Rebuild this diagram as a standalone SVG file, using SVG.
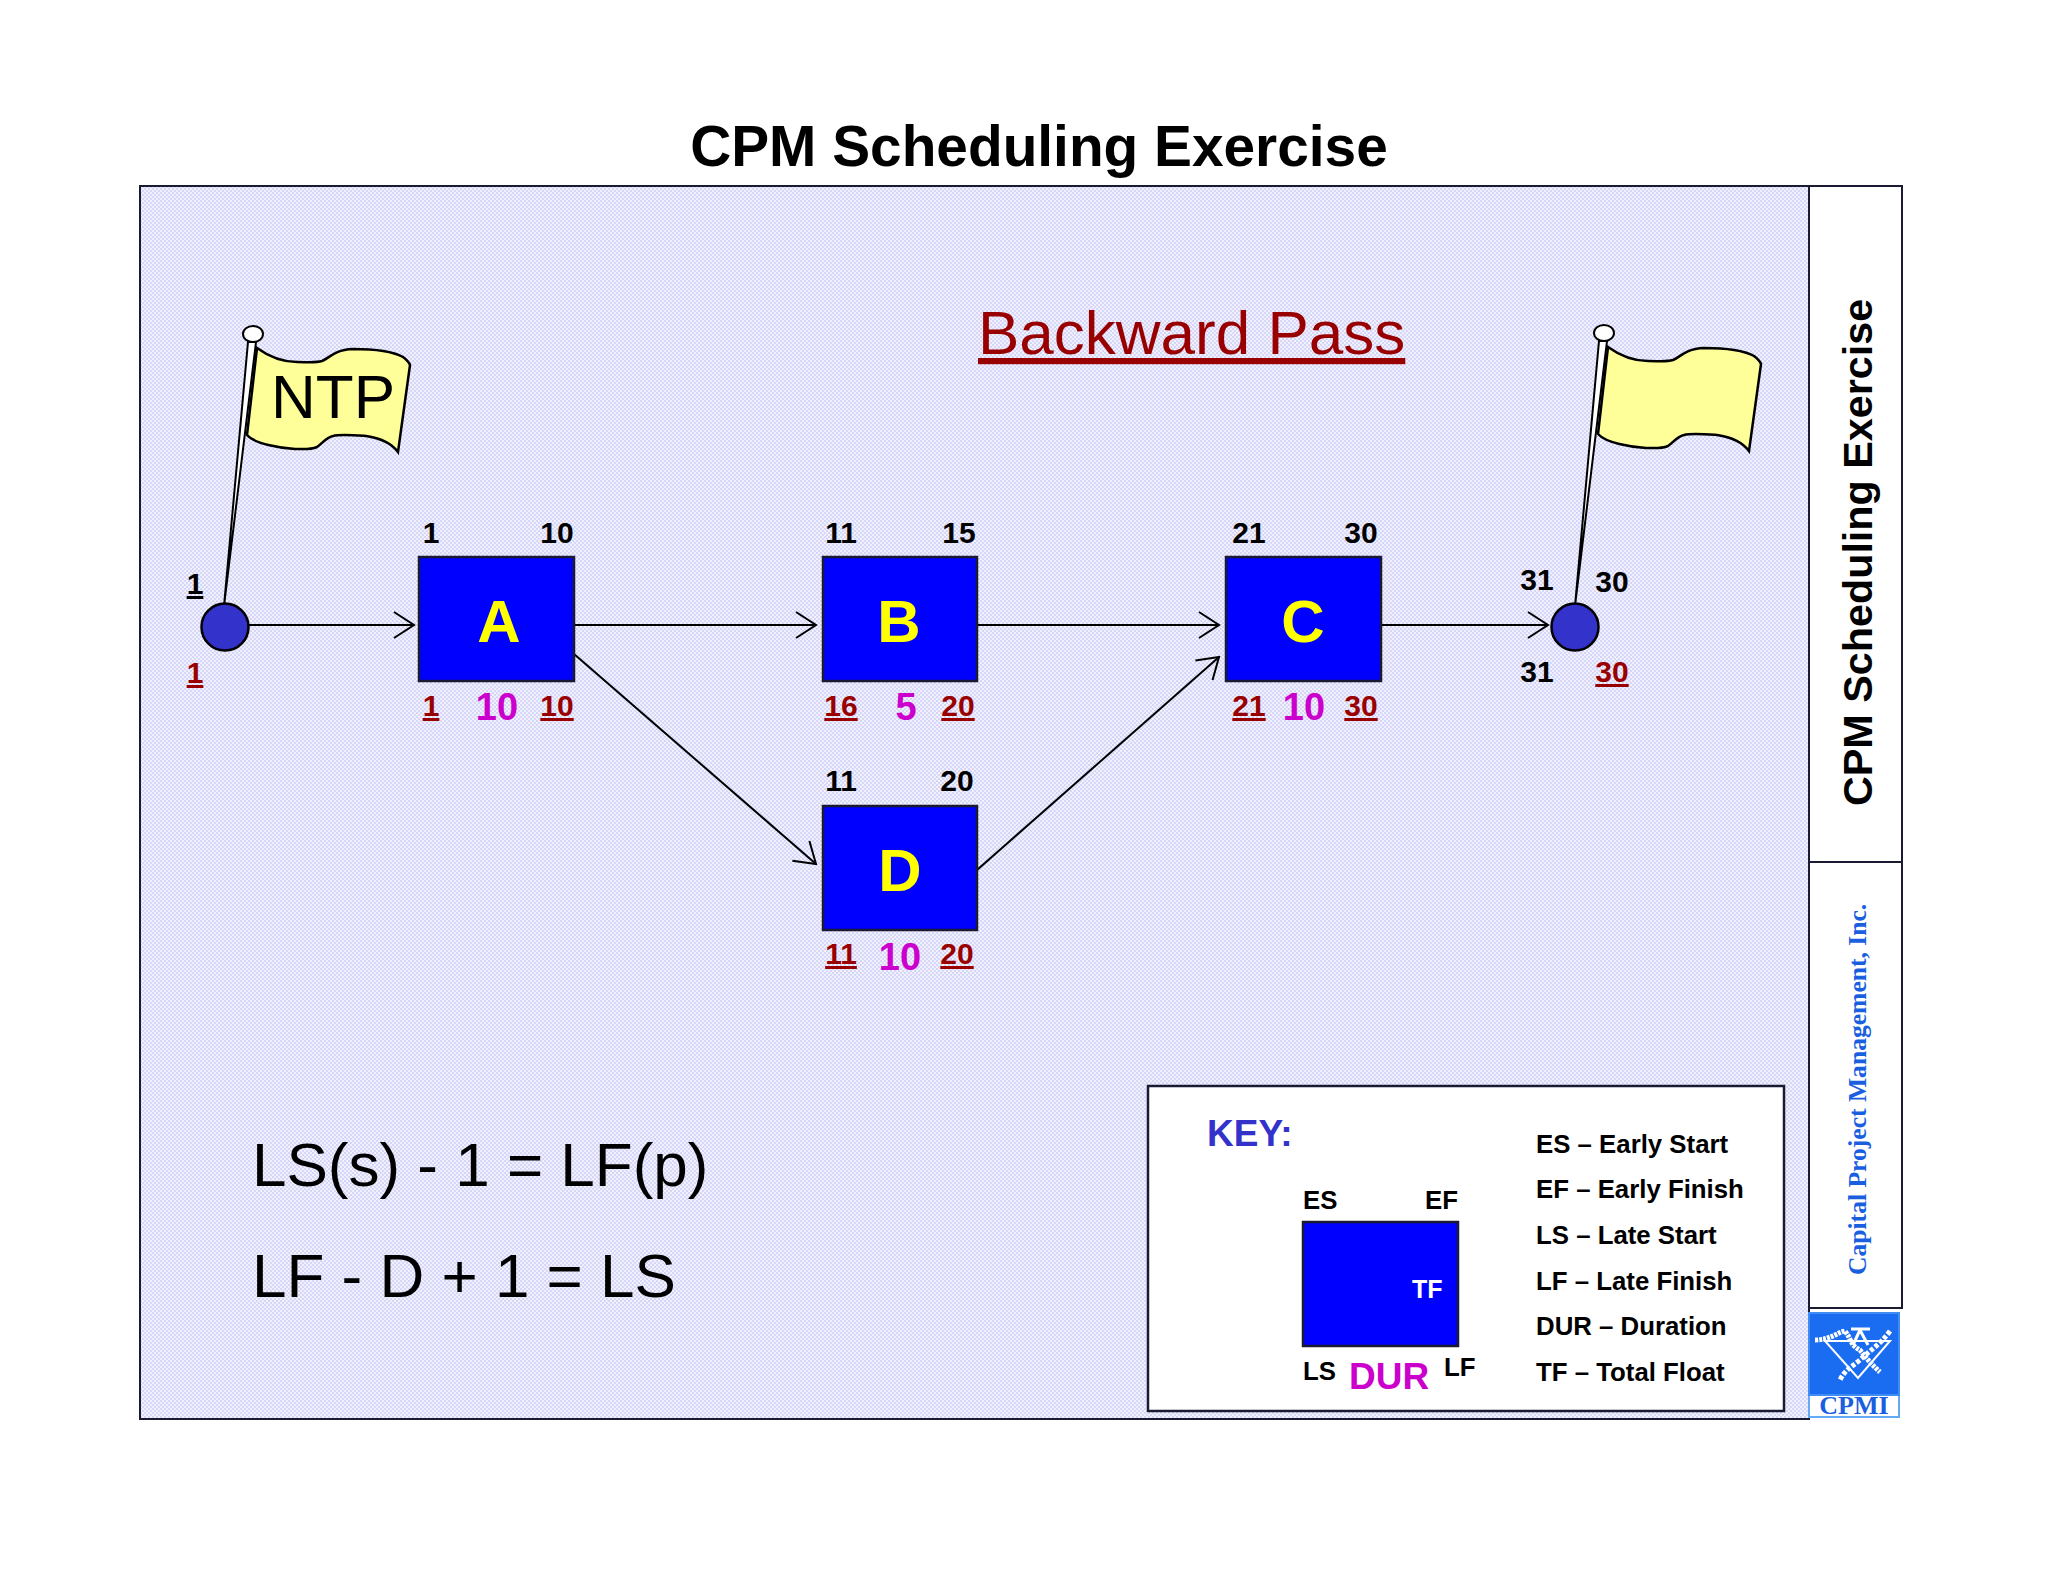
<svg xmlns="http://www.w3.org/2000/svg" width="2048" height="1582" viewBox="0 0 2048 1582">
<style>
text{font-family:"Liberation Sans",Arial,sans-serif}
.n{font-size:30px;font-weight:700;fill:#000;text-anchor:middle}
.l{font-size:30px;font-weight:700;fill:#990000;text-anchor:middle;text-decoration:underline}
.d{font-size:38px;font-weight:700;fill:#cc00cc;text-anchor:middle}
.t{font-size:60px;font-weight:700;fill:#ffff00;text-anchor:middle}
.box{fill:#0000ff;stroke:#1a1a33;stroke-width:2.5}
.k{font-size:25.8px;font-weight:700;fill:#000}
.f{font-size:62px;fill:#000}
.c{stroke:#000;stroke-width:2;fill:none}
.flag{fill:#ffff99;stroke:#000;stroke-width:2.5}
.pole{fill:#fff;stroke:#000;stroke-width:2}
.dot{fill:#3333cc;stroke:#000;stroke-width:2.5}
</style>
<defs>
<pattern id="bg" width="4" height="4" patternUnits="userSpaceOnUse">
<rect width="4" height="4" fill="#f0f0fe"/>
<rect width="2" height="2" fill="#d6d6f7"/>
<rect x="2" y="2" width="2" height="2" fill="#d6d6f7"/>
</pattern>
<path id="flagshape" d="M257 348C268 356 282 362 297 362C308 362 316 363 322 361C330 358 333 350 353 349C372 349 392 351 403 357C407 360 409 362 410 365L398 452C392 444 380 438 366 436C352 435 340 434 333 436C325 438 322 444 317 447C310 450 302 449 295 449C280 448 255 444 247 435Z"/>
<marker id="arr" viewBox="0 0 24 30" refX="22" refY="15" markerWidth="24" markerHeight="30" markerUnits="userSpaceOnUse" orient="auto"><path d="M2 2L22 15L2 28" fill="none" stroke="#000" stroke-width="2"/></marker>
</defs>
<rect width="2048" height="1582" fill="#fff"/>
<text id="title" x="1039" y="166" text-anchor="middle" font-size="56.8" font-weight="700">CPM Scheduling Exercise</text>
<rect id="panel" x="140" y="186" width="1669" height="1233" fill="url(#bg)" stroke="#1a1a33" stroke-width="2"/>
<g id="sidebar">
<rect x="1809" y="186" width="93" height="1122" fill="#fff" stroke="#1a1a33" stroke-width="2"/>
<line x1="1809" y1="862" x2="1902" y2="862" stroke="#1a1a33" stroke-width="2"/>
<text transform="translate(1872 806) rotate(-90)" font-size="41.3" font-weight="700">CPM Scheduling Exercise</text>
<text transform="translate(1866 1275) rotate(-90)" style="font-family:'Liberation Serif',serif" font-size="25.6" font-weight="700" fill="#1a5fe0">Capital Project Management, Inc.</text>
</g>
<g id="logo">
<rect x="1809" y="1313" width="90" height="104" fill="#fff" stroke="#66aaf5" stroke-width="2"/>
<rect x="1809" y="1313" width="90" height="82" fill="#1a6cf0" stroke="#3f8cf5" stroke-width="2"/>
<g fill="none" stroke="#fff">
<path d="M1825 1341L1890 1341L1858 1378Z" stroke-width="2"/>
<path d="M1815 1340C1830 1340 1838 1332 1845 1331C1852 1340 1850 1345 1860 1350C1866 1358 1872 1365 1880 1372" stroke-width="5" stroke-dasharray="3 1"/>
<path d="M1890 1331C1880 1345 1870 1350 1860 1360C1850 1368 1845 1370 1840 1380" stroke-width="5" stroke-dasharray="4 2"/>
<path d="M1851 1329L1870 1329M1860 1330L1853 1345M1860 1330L1868 1345" stroke-width="3"/>
</g>
<text x="1854" y="1414" text-anchor="middle" style="font-family:'Liberation Serif',serif" font-size="26" font-weight="700" fill="#1a5fe0">CPMI</text>
</g>
<text id="pass" x="978" y="354" font-size="62" fill="#990000" text-decoration="underline">Backward Pass</text>
<g id="connectors">
<line class="c" x1="248" y1="625" x2="414" y2="625" marker-end="url(#arr)"/>
<line class="c" x1="574" y1="625" x2="816" y2="625" marker-end="url(#arr)"/>
<line class="c" x1="977" y1="625" x2="1219" y2="625" marker-end="url(#arr)"/>
<line class="c" x1="1381" y1="625" x2="1548" y2="625" marker-end="url(#arr)"/>
<line class="c" x1="574" y1="654" x2="816" y2="864" marker-end="url(#arr)"/>
<line class="c" x1="977" y1="870" x2="1219" y2="657" marker-end="url(#arr)"/>
</g>
<g id="start">
<use href="#flagshape" class="flag"/>
<path class="pole" d="M224 606L248 342L256 342Z"/>
<ellipse cx="253" cy="334" rx="10" ry="8" fill="#fff" stroke="#000" stroke-width="2"/>
<text x="271" y="418" font-size="62">NTP</text>
<circle class="dot" cx="225" cy="627" r="23.5"/>
<text class="n" x="195" y="594" text-decoration="underline">1</text>
<text class="l" x="195" y="683">1</text>
</g>
<g id="finish">
<use href="#flagshape" class="flag" transform="translate(1351 -1)"/>
<path class="pole" d="M1575 606L1599 341L1607 341Z"/>
<ellipse cx="1604" cy="333" rx="10" ry="8" fill="#fff" stroke="#000" stroke-width="2"/>
<circle class="dot" cx="1575" cy="627" r="23.5"/>
<text class="n" x="1537" y="590">31</text>
<text class="n" x="1612" y="592">30</text>
<text class="n" x="1537" y="682">31</text>
<text class="l" x="1612" y="682">30</text>
</g>
<g id="A">
<rect class="box" x="419" y="557" width="155" height="124"/>
<text class="t" x="499" y="642">A</text>
<text class="n" x="431" y="543">1</text><text class="n" x="557" y="543">10</text>
<text class="l" x="431" y="716">1</text><text class="d" x="497" y="720">10</text><text class="l" x="557" y="716">10</text>
</g>
<g id="B">
<rect class="box" x="823" y="557" width="154" height="124"/>
<text class="t" x="899" y="642">B</text>
<text class="n" x="841" y="543">11</text><text class="n" x="959" y="543">15</text>
<text class="l" x="841" y="716">16</text><text class="d" x="906" y="720">5</text><text class="l" x="958" y="716">20</text>
</g>
<g id="C">
<rect class="box" x="1226" y="557" width="155" height="124"/>
<text class="t" x="1303" y="642">C</text>
<text class="n" x="1249" y="543">21</text><text class="n" x="1361" y="543">30</text>
<text class="l" x="1249" y="716">21</text><text class="d" x="1304" y="720">10</text><text class="l" x="1361" y="716">30</text>
</g>
<g id="D">
<rect class="box" x="823" y="806" width="154" height="124"/>
<text class="t" x="900" y="891">D</text>
<text class="n" x="841" y="791">11</text><text class="n" x="957" y="791">20</text>
<text class="l" x="841" y="964">11</text><text class="d" x="900" y="970">10</text><text class="l" x="957" y="964">20</text>
</g>
<g id="formulas">
<text class="f" x="252" y="1186">LS(s) - 1 = LF(p)</text>
<text class="f" x="252" y="1297">LF - D + 1 = LS</text>
</g>
<g id="key">
<rect x="1148" y="1086" width="636" height="325" fill="#fff" stroke="#1a1a33" stroke-width="2.5"/>
<text x="1207" y="1146" font-size="37" font-weight="700" fill="#3333cc">KEY:</text>
<rect class="box" x="1303" y="1222" width="155" height="124"/>
<text x="1412" y="1298" font-size="25" font-weight="700" fill="#fff">TF</text>
<text class="k" x="1303" y="1209">ES</text><text class="k" x="1425" y="1209">EF</text>
<text class="k" x="1303" y="1380">LS</text><text class="k" x="1444" y="1376">LF</text>
<text x="1349" y="1389" font-size="37" font-weight="700" fill="#cc00cc">DUR</text>
<text class="k" x="1536" y="1153">ES – Early Start</text>
<text class="k" x="1536" y="1198">EF – Early Finish</text>
<text class="k" x="1536" y="1244">LS – Late Start</text>
<text class="k" x="1536" y="1290">LF – Late Finish</text>
<text class="k" x="1536" y="1335">DUR – Duration</text>
<text class="k" x="1536" y="1381">TF – Total Float</text>
</g>
</svg>
